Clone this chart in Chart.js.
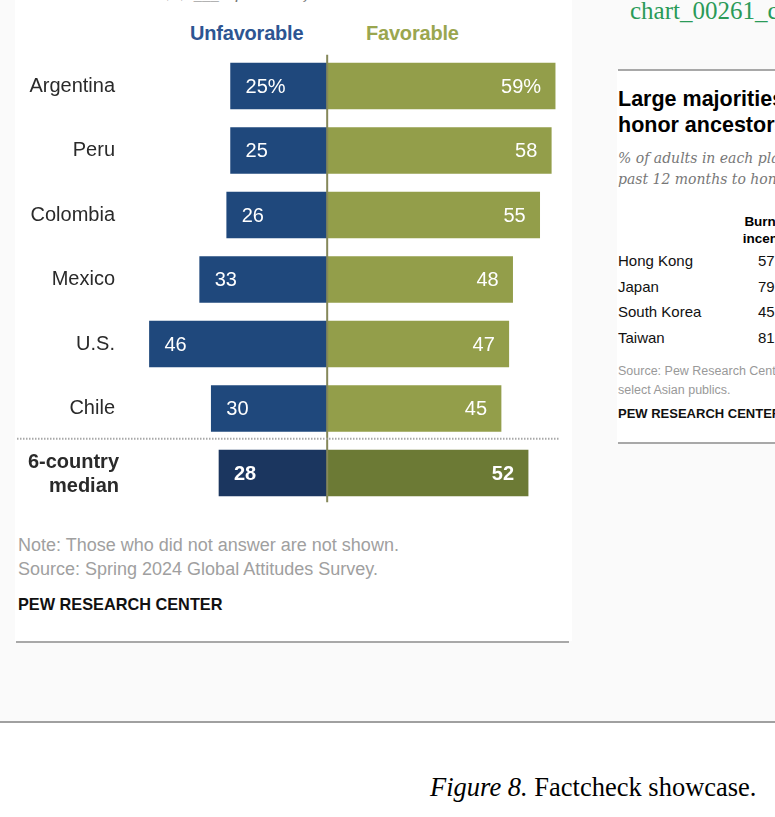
<!DOCTYPE html>
<html>
<head>
<meta charset="utf-8">
<script src="https://cdn.jsdelivr.net/npm/chart.js@4.4.1/dist/chart.umd.min.js"></script>
<style>
  html,body{margin:0;padding:0;}
  body{width:775px;height:817px;overflow:hidden;position:relative;background:#fafafa;font-family:"Liberation Sans",Arial,sans-serif;}
  .abs{position:absolute;white-space:nowrap;}
  #leftPanel{position:absolute;left:15px;top:0;width:557px;height:641px;background:#fff;}
  #rightPanel{position:absolute;left:617px;top:70px;width:158px;height:372px;background:#fff;}
  #chartWrap{position:absolute;left:0;top:0;width:572px;height:520px;}
</style>
</head>
<body>
<div id="leftPanel"></div>
<div class="abs" style="left:45px;top:-18px;font-family:'DejaVu Serif',serif;font-style:italic;font-size:17px;color:#777;">% who have a(n) ___ opinion of Brazil</div>
<div class="abs" style="left:190px;top:22px;font-size:20px;font-weight:bold;color:#2d5592;letter-spacing:-0.2px;">Unfavorable</div>
<div class="abs" style="left:366px;top:22px;font-size:20px;font-weight:bold;color:#9aa64f;letter-spacing:-0.2px;">Favorable</div>
<div id="chartWrap"><canvas id="c" width="572" height="520"></canvas></div>
<div class="abs" style="left:18px;top:535px;font-size:18px;color:#a0a0a0;">Note: Those who did not answer are not shown.</div>
<div class="abs" style="left:18px;top:559px;font-size:18px;color:#a0a0a0;">Source: Spring 2024 Global Attitudes Survey.</div>
<div class="abs" style="left:18px;top:595px;font-size:16.3px;font-weight:bold;color:#111;">PEW RESEARCH CENTER</div>
<div class="abs" style="left:16px;top:641px;width:553px;height:2px;background:#a8a8a8;"></div>

<div class="abs" style="left:630px;top:-3px;font-family:'Liberation Serif','Times New Roman',serif;font-size:25px;color:#2a9a58;">chart_00261_correct</div>
<div id="rightPanel"></div>
<div class="abs" style="left:618px;top:69px;width:157px;height:2px;background:#a8a8a8;"></div>
<div class="abs" style="left:618px;top:86px;font-size:21.5px;font-weight:bold;color:#000;line-height:26px;">Large majorities say they<br>honor ancestors</div>
<div class="abs" style="left:618px;top:148px;font-family:'DejaVu Serif',serif;font-style:italic;font-size:14px;color:#777;line-height:21px;">% of adults in each place who say they<br>past 12 months to honor their ancestors</div>
<div class="abs" style="left:736px;top:213px;width:64px;text-align:center;font-size:13.5px;font-weight:bold;color:#000;line-height:17px;">Burned<br>incense</div>
<div class="abs" style="left:618px;top:248px;font-size:15px;color:#111;line-height:25.5px;">Hong Kong<br>Japan<br>South Korea<br>Taiwan</div>
<div class="abs" style="left:758px;top:248px;font-size:15px;color:#111;line-height:25.5px;">57<br>79<br>45<br>81</div>
<div class="abs" style="left:618px;top:362px;font-size:12.5px;color:#999;line-height:19px;">Source: Pew Research Center survey<br>select Asian publics.</div>
<div class="abs" style="left:618px;top:406px;font-size:13px;font-weight:bold;color:#111;">PEW RESEARCH CENTER</div>
<div class="abs" style="left:618px;top:442px;width:157px;height:2px;background:#a8a8a8;"></div>

<div class="abs" style="left:0;top:722px;width:775px;height:95px;background:#fff;"></div>
<div class="abs" style="left:0;top:721px;width:775px;height:2px;background:#a0a0a0;"></div>
<div class="abs" style="left:430px;top:772px;font-family:'Liberation Serif','Times New Roman',serif;font-size:26.5px;color:#000;"><i>Figure 8.</i> Factcheck showcase.</div>

<script>
const categories = ["Argentina", "Peru", "Colombia", "Mexico", "U.S.", "Chile", ["6-country", "median"]];
const unfavorable = [25, 25, 26, 33, 46, 30, 28];
const favorable = [59, 58, 55, 48, 47, 45, 52];
const medianIndex = 6;

const unfavColors = categories.map((c, i) => i === medianIndex ? "#1b365f" : "#1f487c");
const favColors = categories.map((c, i) => i === medianIndex ? "#6c7a35" : "#939e4a");

const labelsPlugin = {
  id: "valueLabels",
  afterDatasetsDraw(chart) {
    const ctx = chart.ctx;
    const xs = chart.scales.x, ys = chart.scales.y;
    const area = chart.chartArea;
    const x0 = xs.getPixelForValue(0);
    ctx.save();
    // center axis line
    ctx.strokeStyle = "#85885a";
    ctx.lineWidth = 2;
    ctx.beginPath();
    ctx.moveTo(x0, area.top + 1);
    ctx.lineTo(x0, area.bottom - 3);
    ctx.stroke();
    // dotted separator before the median row
    const ySep = (ys.getPixelForValue(5) + ys.getPixelForValue(6)) / 2 - 2;
    ctx.strokeStyle = "#a8a8a8";
    ctx.lineWidth = 2;
    ctx.setLineDash([1.5, 1.5]);
    ctx.beginPath();
    ctx.moveTo(17, ySep);
    ctx.lineTo(560, ySep);
    ctx.stroke();
    ctx.setLineDash([]);
    // category labels
    ctx.textBaseline = "middle";
    ctx.textAlign = "right";
    ctx.fillStyle = "#2a2a2a";
    categories.forEach((lab, i) => {
      const y = ys.getPixelForValue(i);
      if (Array.isArray(lab)) {
        ctx.font = "bold 20px 'Liberation Sans', Arial, sans-serif";
        const lh = 24;
        lab.forEach((line, k) => {
          ctx.fillText(line, area.left - 15, y + (k - (lab.length - 1) / 2) * lh + 1);
        });
      } else {
        ctx.font = "20px 'Liberation Sans', Arial, sans-serif";
        ctx.fillText(lab, area.left - 19, y);
      }
    });
    // value labels
    ctx.fillStyle = "#ffffff";
    chart.data.datasets.forEach((ds, di) => {
      const meta = chart.getDatasetMeta(di);
      meta.data.forEach((bar, i) => {
        const isMed = i === medianIndex;
        ctx.font = (isMed ? "bold " : "") + "20px 'Liberation Sans', Arial, sans-serif";
        const raw = di === 0 ? unfavorable[i] : favorable[i];
        const txt = raw + (i === 0 ? "%" : "");
        if (di === 0) {
          ctx.textAlign = "left";
          ctx.fillText(txt, bar.x + 15, bar.y + 1);
        } else {
          ctx.textAlign = "right";
          ctx.fillText(txt, bar.x - 14, bar.y + 1);
        }
      });
    });
    ctx.restore();
  }
};

new Chart(document.getElementById("c"), {
  type: "bar",
  data: {
    labels: categories,
    datasets: [
      { label: "Unfavorable", data: unfavorable.map(v => -v), backgroundColor: unfavColors, barThickness: 46 },
      { label: "Favorable", data: favorable, backgroundColor: favColors, barThickness: 46 }
    ]
  },
  options: {
    indexAxis: "y",
    responsive: false,
    animation: false,
    devicePixelRatio: 1,
    layout: { padding: { top: 53.75, bottom: 14.75, left: 134, right: 13 } },
    plugins: { legend: { display: false }, tooltip: { enabled: false } },
    scales: {
      x: { type: "linear", min: -50, max: 60, stacked: true, display: false },
      y: { stacked: true, display: false }
    }
  },
  plugins: [labelsPlugin]
});
</script>
</body>
</html>
